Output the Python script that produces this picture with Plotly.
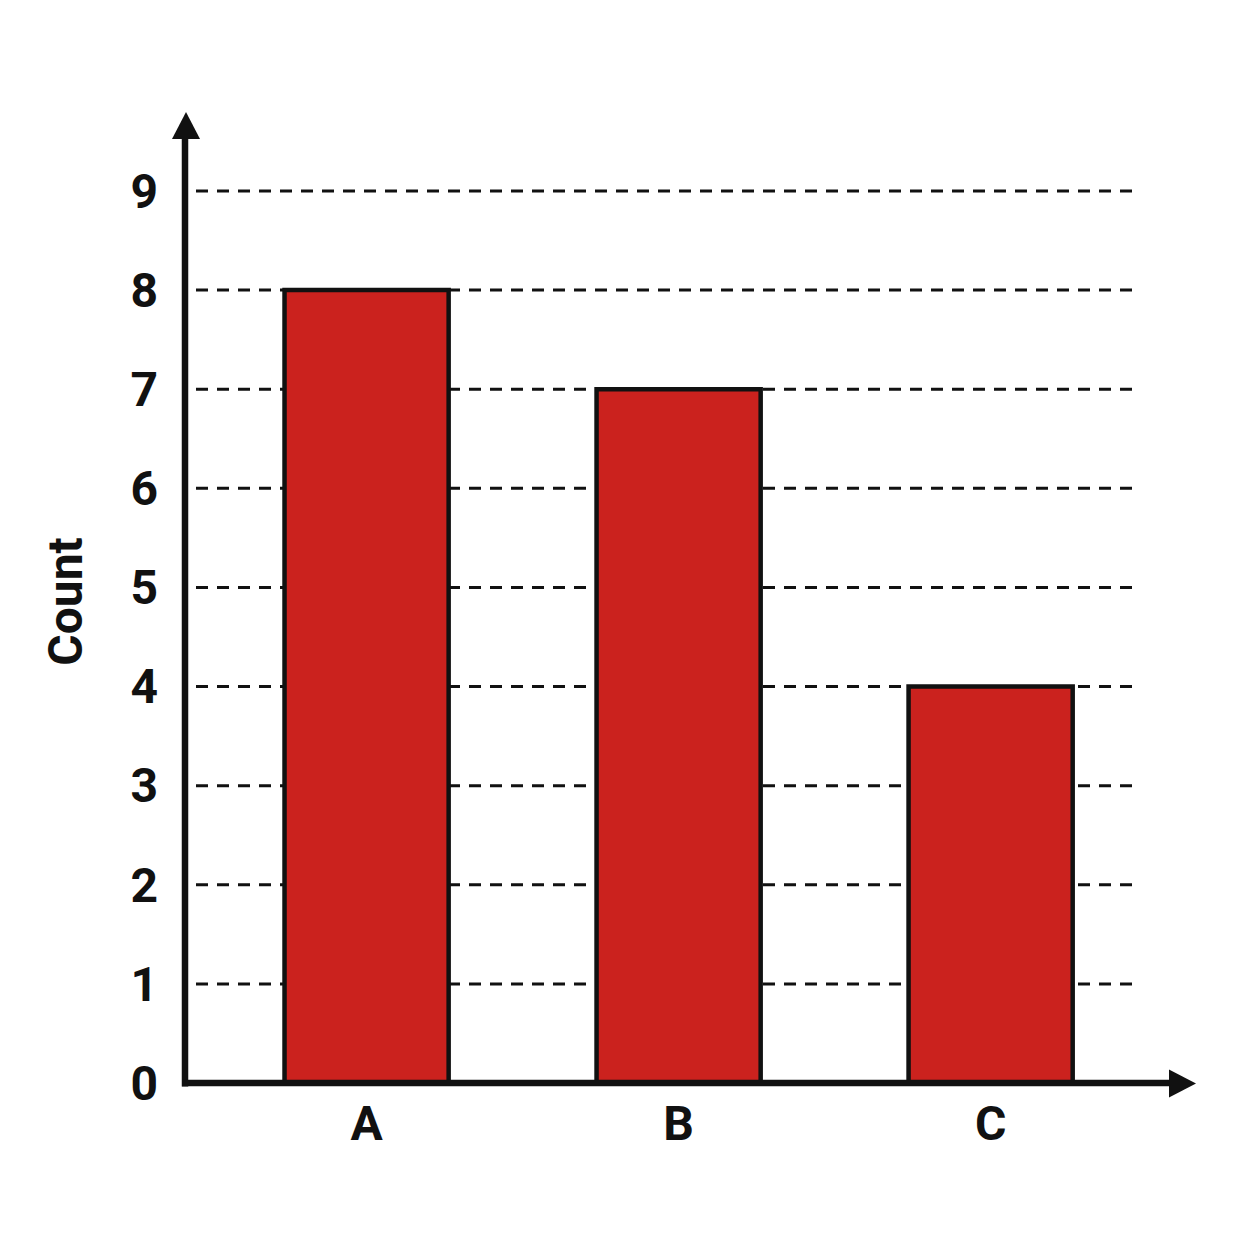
import plotly.graph_objects as go

categories = ["A", "B", "C"]
counts = [8, 7, 4]
y_ticks = [0, 1, 2, 3, 4, 5, 6, 7, 8, 9]
y_title = "Count"

# layout geometry (pixels)
W_IMG, H_IMG = 1254, 1254
OFF = 8  # page body margin
L, R_EDGE = 185, 1195
T, B_EDGE = 113, 1083.5
PW, PH = R_EDGE - L, B_EDGE - T


def px(xp):
    return (xp - L) / PW


def py(yp):
    return (B_EDGE - yp) / PH


BAR_COLOR = "#CB221E"
FONT = dict(family="Roboto, Arial, sans-serif", size=48, color="#111111", weight="bold")

fig = go.Figure()
fig.add_trace(go.Bar(
    x=categories, y=counts, width=0.526,
    marker=dict(color=BAR_COLOR, line=dict(color="#111111", width=4.5)),
    hoverinfo="skip",
))

shapes = []
# dashed gridlines
for v in y_ticks[1:]:
    shapes.append(dict(type="line", xref="paper", yref="y", x0=px(196), x1=px(1132), y0=v, y1=v,
                       line=dict(color="#111111", width=3, dash="12px,9px"), layer="below"))
# axis lines
shapes.append(dict(type="line", xref="paper", yref="paper", x0=0, x1=0, y0=py(1087), y1=py(136),
                   line=dict(color="#111111", width=6.5)))
shapes.append(dict(type="line", xref="paper", yref="paper", x0=px(182), x1=px(1172), y0=0, y1=0,
                   line=dict(color="#111111", width=6.5)))
# arrow heads
shapes.append(dict(type="path", xref="paper", yref="paper",
                   path=f"M {px(172)},{py(139)} L {px(186)},{py(112)} L {px(200)},{py(139)} Z",
                   fillcolor="#111111", line=dict(width=0)))
shapes.append(dict(type="path", xref="paper", yref="paper",
                   path=f"M {px(1169)},{py(1070)} L {px(1196)},{py(1084)} L {px(1169)},{py(1098)} Z",
                   fillcolor="#111111", line=dict(width=0)))

fig.update_layout(
    width=W_IMG, height=H_IMG,
    margin=dict(l=L - OFF, r=W_IMG - R_EDGE + OFF, t=T - OFF, b=H_IMG - B_EDGE + OFF),
    paper_bgcolor="white", plot_bgcolor="white",
    showlegend=False,
    shapes=shapes,
    xaxis=dict(type="category", range=[-0.582, 2.655], showgrid=False, zeroline=False,
               showline=False, ticks="", tickfont=FONT, ticklabelstandoff=8),
    yaxis=dict(range=[0, 9.786], tickvals=y_ticks, showgrid=False, zeroline=False,
               showline=False, ticks="", tickfont=FONT, ticklabelstandoff=26),
    annotations=[dict(text=y_title, xref="paper", yref="paper", x=px(66), y=py(602),
                      xanchor="center", yanchor="middle", textangle=-90, showarrow=False,
                      font=FONT)],
)

fig.write_html("out.html")
